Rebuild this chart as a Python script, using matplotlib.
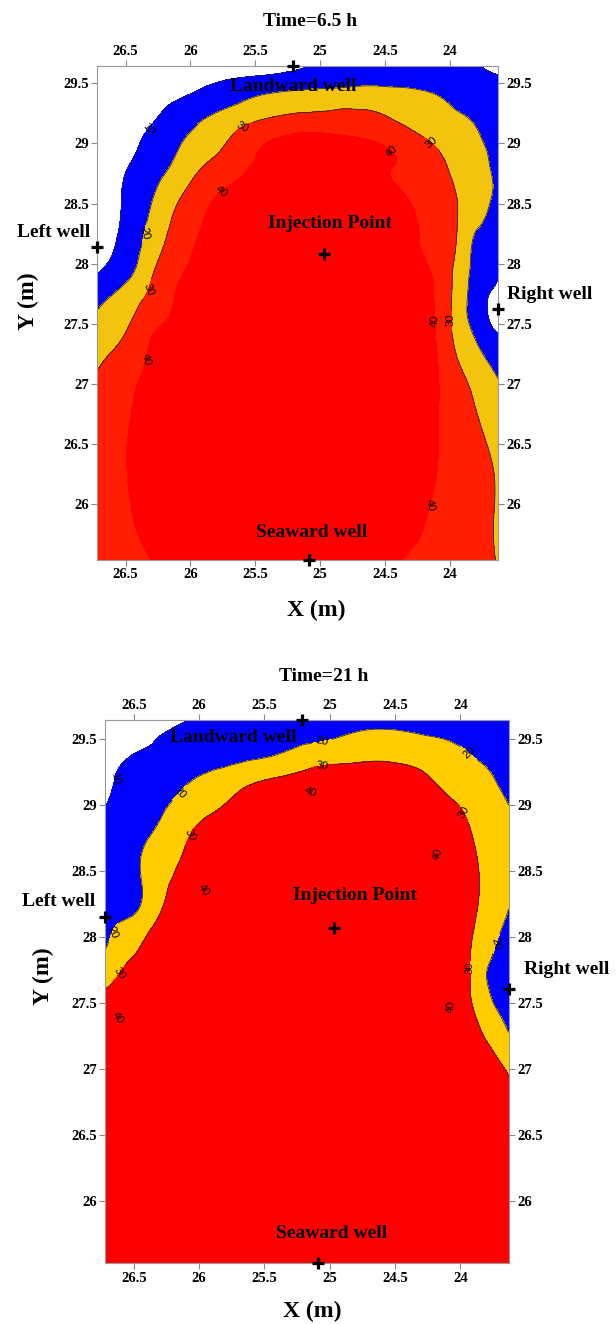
import numpy as np
import matplotlib
matplotlib.use('Agg')
import matplotlib.pyplot as plt
import matplotlib.tri as mtri
from matplotlib.ticker import FuncFormatter

plt.rcParams['font.family'] = ['Liberation Serif', 'DejaVu Serif']

# grid nodes (m) - x runs from left edge (26.72) to right edge (23.63)
x_cols = [26.72, 26.6, 26.45, 26.3, 26.1, 25.8, 25.4, 25.0, 24.6, 24.3, 24.1, 23.95, 23.82, 23.72, 23.63]
y_rows = [29.645, 29.55, 29.4, 29.2, 29.0, 28.8, 28.5, 28.2, 27.9, 27.75, 27.6, 27.45, 27.2, 26.9, 26.4, 25.9, 25.53]

# values, one list per row of y_rows
conc_6h = [
    [0, 1, 2, 3, 4.5, 6, 8, 10.5, 13, 14, 13.5, 12.5, 10.7, 9.5, 9],
    [1, 2, 3, 4, 5.5, 8.5, 11.2, 13.5, 16, 16.5, 15.5, 14, 12.5, 11, 10.3],
    [2.5, 3.5, 4.5, 6, 8.8, 13.9, 20.9, 24, 25, 22.5, 20.1, 17, 14.5, 13, 12],
    [5, 6, 7, 9.1, 15, 22.3, 30.7, 33, 32, 27.8, 24.3, 21.7, 19.4, 16.5, 14],
    [2.5, 4, 8.1, 12.8, 19.1, 27.5, 40.5, 45, 41, 34.4, 29, 25.3, 22, 19.6, 18],
    [2.5, 6.2, 11, 15.8, 22.4, 33.5, 43, 46, 42, 37.8, 32.4, 28.1, 24.1, 20.8, 18.5],
    [1.7, 7, 13.5, 20, 30, 41, 45, 47, 45, 40, 34.4, 30.3, 25.4, 21, 18.5],
    [3, 8.6, 15.5, 23.8, 34.6, 43, 46, 47, 45, 42, 35.6, 30, 19.7, 16.7, 14],
    [10.5, 14, 20, 29.4, 39, 44, 46, 47, 45, 42, 38.5, 27.3, 18, 14, 10.5],
    [15.3, 19.6, 25.4, 32, 40.5, 44, 46, 47, 45, 42, 38.8, 26.7, 17.1, 11.2, 7],
    [20.2, 24, 28.7, 35.2, 41, 44, 46, 47, 45, 42, 39, 26.2, 16.9, 10.6, 4],
    [22.9, 25.5, 32, 39, 42, 44.5, 46, 47, 45, 42.5, 39.2, 26.9, 19.0, 13.3, 8.3],
    [28, 32, 37, 41, 43, 45, 46, 47, 45, 43, 40.3, 30.6, 24.5, 20, 18],
    [33, 35.5, 39.6, 42, 44, 45, 46, 47, 45, 43, 40.5, 34.8, 29.6, 25, 21.5],
    [35, 37.5, 40.8, 42.5, 44, 45, 46, 47, 45, 43, 40.2, 36.5, 33.3, 30.8, 28.5],
    [34, 36.5, 39.9, 42, 44, 45, 46, 47, 45, 42.5, 38.3, 35.5, 33, 31.1, 29.4],
    [34, 36, 38, 40, 42.5, 44, 45, 45, 43, 38.8, 36.1, 34.1, 32.4, 31, 29.7],
]

conc_21h = [
    [0, 2, 4, 6, 9.7, 11.5, 14, 16, 17.5, 17, 16, 15, 14, 13.5, 13],
    [2, 4.5, 6.5, 9.4, 12, 14.5, 16.5, 18.5, 21, 19.4, 18, 17, 16, 15, 14.3],
    [7, 8.6, 10.3, 12, 13.8, 16.3, 19.4, 24, 27, 26, 23.5, 20.2, 18.5, 17.5, 16.5],
    [8.8, 10.7, 13, 15.6, 18.9, 24, 30.8, 37, 36, 31.4, 27.5, 24.4, 21.7, 19.6, 17.5],
    [9.8, 12.3, 15.4, 18.5, 23.1, 30.3, 40.4, 43, 41.5, 36.6, 32, 28.4, 25, 22.4, 20],
    [11.6, 14.5, 18, 21.4, 28.3, 37.1, 43, 45, 43.5, 41, 35.5, 30.9, 27.3, 24.5, 22],
    [14.4, 16.5, 20, 25.6, 33.2, 42, 45, 46, 45, 42.5, 38.9, 33.3, 28.8, 25.7, 23],
    [17.2, 18.7, 20.6, 29.2, 40, 44, 46, 47, 45, 42.5, 40, 33.5, 27.9, 23.8, 19.8],
    [20, 25, 31, 40, 43.5, 45, 46, 47, 45, 43, 40.5, 32, 24.1, 18.8, 15],
    [25.2, 29.6, 36.5, 41, 44, 45, 46, 47, 45, 43, 40.7, 32, 21.5, 16.7, 13],
    [30.2, 34.5, 42, 43, 44.5, 45, 46, 47, 45, 43, 41, 32, 22.6, 16.2, 11],
    [36, 39.2, 42, 43.5, 44.5, 45.5, 46, 47, 45, 43, 41.2, 33.3, 25.6, 20, 15],
    [40.3, 41.5, 43, 44, 45, 45.5, 46, 47, 45.5, 43.5, 41.5, 37, 31, 27.5, 22.5],
    [41.5, 42.5, 43.5, 44.5, 45, 45.5, 46, 47, 45.5, 43.5, 41.5, 38.5, 35.5, 33.2, 31],
    [42, 43, 44, 44.5, 45, 45.5, 46, 46.5, 45.5, 43.5, 41.5, 39.5, 37.5, 35.5, 34],
    [42, 43, 44, 44.5, 45, 45.5, 46, 46.5, 45.5, 43.5, 41.5, 39.5, 38, 36.5, 35],
    [42, 43, 43.5, 44, 44.5, 45, 45.5, 46, 45, 43.5, 41.5, 40, 38.5, 37, 36],
]

contour_levels = [10, 20, 30, 40]

# wells
well_names = ['Landward well', 'Injection Point', 'Left well', 'Right well', 'Seaward well']
wells_6h_x = [25.21, 24.97, 26.72, 23.63, 25.09]
wells_6h_y = [29.645, 28.08, 28.14, 27.62, 25.53]
wells_21h_x = [25.21, 24.97, 26.72, 23.63, 25.09]
wells_21h_y = [29.645, 28.07, 28.15, 27.61, 25.53]
names_6h_x = [25.207, 24.926, 27.058, 23.232, 25.064]
names_6h_y = [29.475, 28.33, 28.26, 27.746, 25.76]
names_21h_x = [25.736, 24.806, 27.072, 23.186, 24.983]
names_21h_y = [29.515, 28.317, 28.27, 27.756, 25.755]

# contour label spots
labels_6h = [(26.32, 29.12), (25.57, 29.08), (24.16, 28.98), (24.45, 28.93), (25.79, 28.63),
             (26.35, 28.25), (26.31, 27.78), (26.34, 27.20), (24.15, 27.52), (23.99, 27.53),
             (24.17, 25.99)]
labels_21h = [(26.60, 29.19), (26.16, 29.10), (25.06, 29.49), (25.06, 29.30), (25.15, 29.11),
              (23.95, 29.38), (24.02, 28.92), (26.07, 28.77), (26.01, 28.39), (24.16, 28.63),
              (26.60, 28.01), (23.72, 27.95), (26.60, 27.72), (26.60, 27.37), (23.93, 27.77),
              (24.05, 27.47)]

x_ticks = [26.5, 26, 25.5, 25, 24.5, 24]
y_ticks = [26, 26.5, 27, 27.5, 28, 28.5, 29, 29.5]


def grid_triangles(nx, ny):
    idx = np.arange(ny * nx).reshape(ny, nx)
    a = idx[:-1, :-1].ravel()
    b = idx[:-1, 1:].ravel()
    c = idx[1:, 1:].ravel()
    d = idx[1:, :-1].ravel()
    return np.concatenate([np.stack([a, b, c], 1), np.stack([a, c, d], 1)])


def draw_panel(ax, z, fill_colors, label_pts, wx, wy, nx_, ny_):
    X, Y = np.meshgrid(x_cols, y_rows)
    tri = mtri.Triangulation(X.ravel(), Y.ravel(), grid_triangles(len(x_cols), len(y_rows)))
    zz = np.array(z, dtype=float).ravel()
    interp = mtri.CubicTriInterpolator(tri, zz, kind='min_E')
    refiner = mtri.UniformTriRefiner(tri)
    tri_f, z_f = refiner.refine_field(zz, triinterpolator=interp, subdiv=3)

    ax.tricontourf(tri_f, z_f, levels=[-100] + contour_levels + [200], colors=fill_colors)
    cs = ax.tricontour(tri_f, z_f, levels=contour_levels, colors='#2a2a2a',
                       linewidths=[0.4, 0.6, 0.6, 0.0])
    texts = ax.clabel(cs, manual=label_pts, inline=True, fmt='%d', fontsize=8, colors='k')
    for t in texts:
        t.set_fontfamily('Liberation Sans')
        t.set_clip_on(False)
        t.set_zorder(4)

    ax.plot(wx, wy, ls='none', marker='+', ms=8, mew=2.3, color='k', clip_on=False, zorder=5)
    for name, tx, ty in zip(well_names, nx_, ny_):
        ax.text(tx, ty, name, ha='center', va='center', fontsize=14, fontweight='bold',
                clip_on=False, zorder=6)

    ax.set_xlim(26.72, 23.63)
    ax.set_ylim(25.53, 29.645)
    ax.set_xticks(x_ticks)
    ax.set_yticks(y_ticks)
    fmt = FuncFormatter(lambda v, p: '%g' % v)
    ax.xaxis.set_major_formatter(fmt)
    ax.yaxis.set_major_formatter(fmt)
    ax.tick_params(top=True, labeltop=True, right=True, labelright=True, direction='out',
                   length=4, width=0.8, color='#888888', labelsize=10.5, pad=2)
    for lab in ax.get_xticklabels() + ax.get_yticklabels():
        lab.set_fontweight('bold')
    for sp in ax.spines.values():
        sp.set_color('#999999')
        sp.set_linewidth(0.8)


fig = plt.figure(figsize=(6.16, 13.24), dpi=100)

ax1 = fig.add_axes([0.1575, 0.5770, 0.651, 0.3731])
draw_panel(ax1, conc_6h, ['white', '#0000FF', '#F2C40E', '#FF1E00', '#FF0000'],
           labels_6h, wells_6h_x, wells_6h_y, names_6h_x, names_6h_y)

ax2 = fig.add_axes([0.1705, 0.0459, 0.6552, 0.4103])
draw_panel(ax2, conc_21h, ['white', '#0000FF', '#FFCC00', '#FF0000', '#FF0000'],
           labels_21h, wells_21h_x, wells_21h_y, names_21h_x, names_21h_y)

fig.text(0.503, 0.9834, 'Time=6.5 h', ha='center', va='center', fontsize=14, fontweight='bold')
fig.text(0.525, 0.4887, 'Time=21 h', ha='center', va='center', fontsize=14, fontweight='bold')
fig.text(0.513, 0.5393, 'X (m)', ha='center', va='center', fontsize=17, fontweight='bold')
fig.text(0.5065, 0.0091, 'X (m)', ha='center', va='center', fontsize=17, fontweight='bold')
fig.text(0.0455, 0.7727, 'Y (m)', ha='center', va='center', fontsize=17, fontweight='bold',
         rotation=90)
fig.text(0.0698, 0.2628, 'Y (m)', ha='center', va='center', fontsize=17, fontweight='bold',
         rotation=90)

fig.savefig('out.png', dpi=100)
